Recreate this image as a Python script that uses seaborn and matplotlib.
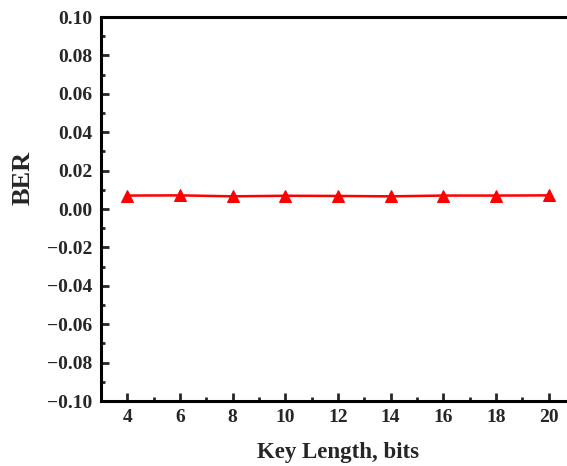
import matplotlib
matplotlib.use("Agg")
import matplotlib.pyplot as plt
import seaborn as sns
import pandas as pd
from matplotlib.ticker import MultipleLocator

# Dados
key_length = [4, 6, 8, 10, 12, 14, 16, 18, 20]
ber = [0.0070, 0.0071, 0.0066, 0.0069, 0.0068, 0.0066, 0.0070, 0.0070, 0.0071]
y_ticks = [-0.10, -0.08, -0.06, -0.04, -0.02, 0.00, 0.02, 0.04, 0.06, 0.08, 0.10]

df = pd.DataFrame({"key_length": key_length, "ber": ber})

sns.set_style("ticks")
plt.rcParams["font.family"] = ["Liberation Serif", "DejaVu Serif"]
plt.rcParams["font.weight"] = "bold"
plt.rcParams["axes.labelweight"] = "bold"

fig = plt.figure(figsize=(5.67, 4.66), dpi=100)
ax = fig.add_axes([101 / 567, 65 / 466, 474 / 567, 384 / 466])

sns.lineplot(data=df, x="key_length", y="ber", ax=ax, color="#ff0000",
             marker="^", markersize=8.5, markeredgecolor="#ff0000",
             linewidth=1.8, clip_on=False)

ax.set_xlim(3, 21)
ax.set_ylim(-0.10, 0.10)
ax.set_xticks(key_length)
ax.set_xticklabels([str(k) for k in key_length])
ax.xaxis.set_minor_locator(MultipleLocator(1))
ax.set_yticks(y_ticks)
ax.set_yticklabels([f"{v:.2f}".replace("-", "\u2212") for v in y_ticks])
ax.yaxis.set_minor_locator(MultipleLocator(0.01))

ax.tick_params(which="major", direction="in", length=6, width=2,
               labelsize=14, pad=6, top=False, right=False)
ax.tick_params(which="minor", direction="in", length=3, width=2,
               top=False, right=False)
for s in ax.spines.values():
    s.set_linewidth(2.2)
    s.set_color("black")

ax.set_xlabel("Key Length, bits", fontsize=16.5, fontweight="bold", labelpad=11)
ax.set_ylabel("BER", fontsize=19, fontweight="bold")
ax.yaxis.set_label_coords(-0.14, 0.58)

fig.savefig("out.png", dpi=100)
